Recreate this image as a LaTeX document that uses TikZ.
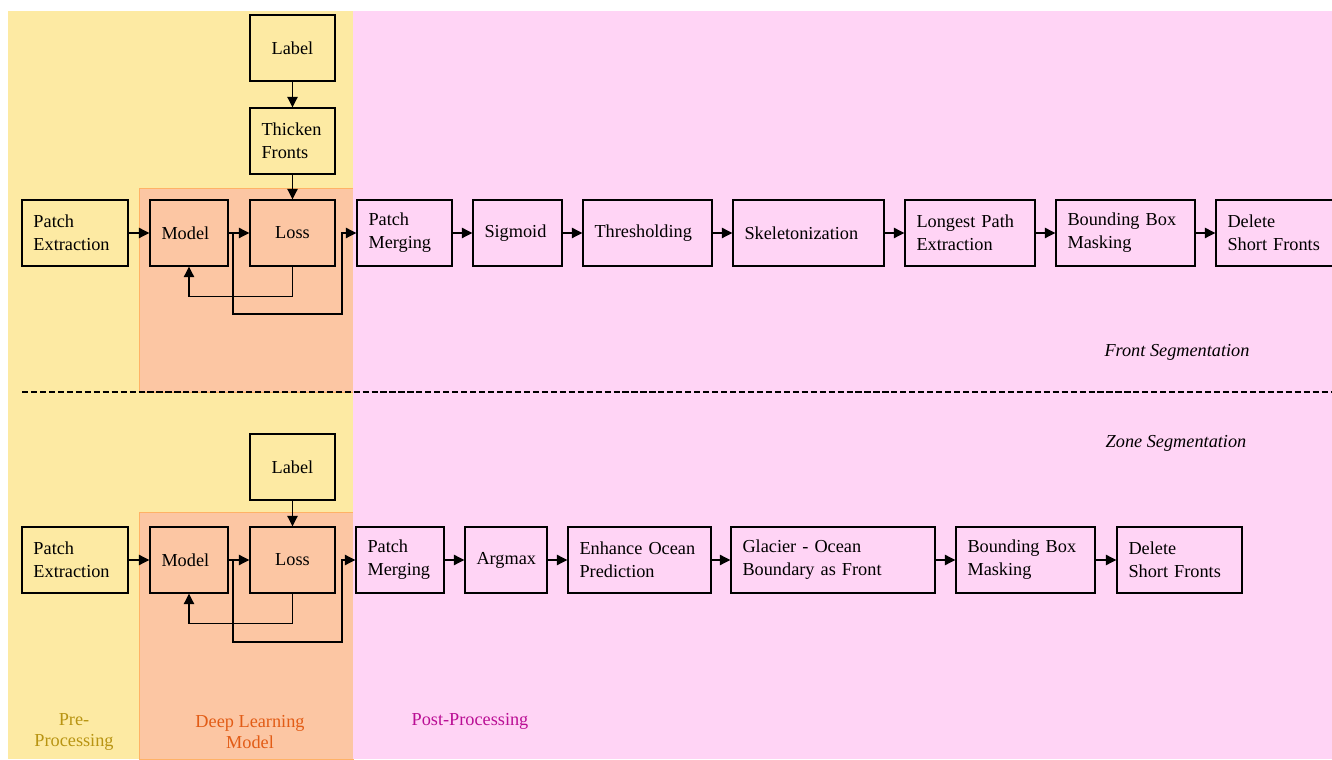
\documentclass[tikz,border=0pt]{standalone}
\usepackage{fontspec}
\setmainfont{Liberation Serif}[Scale=1.04]
\usetikzlibrary{arrows.meta}
\definecolor{preBg}{RGB}{253,234,163}
\definecolor{dlBg}{RGB}{252,198,163}
\definecolor{postBg}{RGB}{255,212,245}
\definecolor{preText}{RGB}{184,148,18}
\definecolor{dlText}{RGB}{226,92,22}
\definecolor{postText}{RGB}{186,14,148}
\tikzset{
    stage/.style={draw, line width=0.6pt, minimum height=1.32cm, align=left, inner xsep=0.23cm,
        font=\linespread{1.09}\selectfont},
    flow/.style={-{Triangle[length=2.1mm,width=2mm]}, line width=1.1pt},
    region/.style={line width=0.3pt},
}
\begin{document}
\begin{tikzpicture}
    \useasboundingbox (0,0) rectangle (26.64,15.18);
    \fill[preBg] (0.16,0) rectangle (7.06,14.96);
    \filldraw[region, fill=dlBg, draw=orange!60] (2.78,7.34) rectangle (7.06,11.42);
    \filldraw[region, fill=dlBg, draw=orange!60] (2.78,0) rectangle (7.06,4.94);
    \fill[postBg] (7.06,0) rectangle (26.8,14.96);

    \node[stage, text width=1.66cm] (pe1) at (1.50,10.52) {Patch\\Extraction};
    \node[stage, text width=1.10cm] (model1) at (3.78,10.52) {Model};
    \node[stage, text width=1.24cm, align=center] (loss1) at (5.85,10.52) {Loss};
    \node[stage, text width=1.24cm, align=center] (label1) at (5.85,14.22) {Label};
    \node[stage, text width=1.24cm] (thick1) at (5.85,12.36) {Thicken\\Fronts};
    \node[stage, text width=1.44cm] (merge1) at (8.09,10.52) {Patch\\Merging};
    \node[stage, text width=1.32cm] (sig1) at (10.35,10.52) {Sigmoid};
    \node[stage, text width=2.12cm] (thr1) at (12.95,10.52) {Thresholding};
    \node[stage, text width=2.56cm] (skel1) at (16.17,10.52) {Skeletonization};
    \node[stage, text width=2.14cm] (lpe1) at (19.40,10.52) {Longest Path\\Extraction};
    \node[stage, text width=2.32cm] (bbm1) at (22.51,10.52) {Bounding Box\\Masking};
    \node[stage, text width=1.90cm] (del1) at (25.50,10.52) {Delete\\Short Fronts};

    \draw[flow] (label1) -- (thick1);
    \draw[flow] (thick1) -- (loss1);
    \draw[flow] (pe1) -- (model1);
    \draw[flow] (model1) -- (loss1);
    \draw[flow] (loss1.south) -- ++(0,-0.6) -| (model1.south);
    \coordinate (fork1) at (4.66,10.52);
    \coordinate (low1) at (6.84,8.90);
    \draw[flow] (fork1) |- (low1) |- (merge1.west);
    \draw[flow] (merge1) -- (sig1);
    \draw[flow] (sig1) -- (thr1);
    \draw[flow] (thr1) -- (skel1);
    \draw[flow] (skel1) -- (lpe1);
    \draw[flow] (lpe1) -- (bbm1);
    \draw[flow] (bbm1) -- (del1);

    \node[font=\itshape] (front) at (23.54,8.14) {Front Segmentation};
    \draw[line width=1pt, dash pattern=on 3.5pt off 1.6pt] (0.44,7.34) -- (26.64,7.34);
    \node[font=\itshape] (zone) at (23.52,6.32) {Zone Segmentation};

    \node[stage, text width=1.66cm] (pe2) at (1.50,3.98) {Patch\\Extraction};
    \node[stage, text width=1.10cm] (model2) at (3.78,3.98) {Model};
    \node[stage, text width=1.24cm, align=center] (loss2) at (5.85,3.98) {Loss};
    \node[stage, text width=1.24cm, align=center] (label2) at (5.85,5.84) {Label};
    \node[stage, text width=1.30cm] (merge2) at (8.00,3.98) {Patch\\Merging};
    \node[stage, text width=1.18cm] (arg2) at (10.12,3.98) {Argmax};
    \node[stage, text width=2.40cm] (eop2) at (12.79,3.98) {Enhance Ocean\\Prediction};
    \node[stage, text width=3.62cm] (gob2) at (16.66,3.98) {Glacier - Ocean\\Boundary as Front};
    \node[stage, text width=2.32cm] (bbm2) at (20.51,3.98) {Bounding Box\\Masking};
    \node[stage, text width=2.04cm] (del2) at (23.59,3.98) {Delete\\Short Fronts};

    \draw[flow] (label2) -- (loss2);
    \draw[flow] (pe2) -- (model2);
    \draw[flow] (model2) -- (loss2);
    \draw[flow] (loss2.south) -- ++(0,-0.6) -| (model2.south);
    \coordinate (fork2) at (4.66,3.98);
    \coordinate (low2) at (6.84,2.34);
    \draw[flow] (fork2) |- (low2) |- (merge2.west);
    \draw[flow] (merge2) -- (arg2);
    \draw[flow] (arg2) -- (eop2);
    \draw[flow] (eop2) -- (gob2);
    \draw[flow] (gob2) -- (bbm2);
    \draw[flow] (bbm2) -- (del2);

    \node[text=preText, align=center] (pre) at (1.48,0.54) {Pre-\\Processing};
    \node[text=dlText, align=center] (dl) at (5.00,0.54) {Deep Learning\\Model};
    \node[text=postText] (post) at (9.40,0.76) {Post-Processing};
\end{tikzpicture}
\end{document}
